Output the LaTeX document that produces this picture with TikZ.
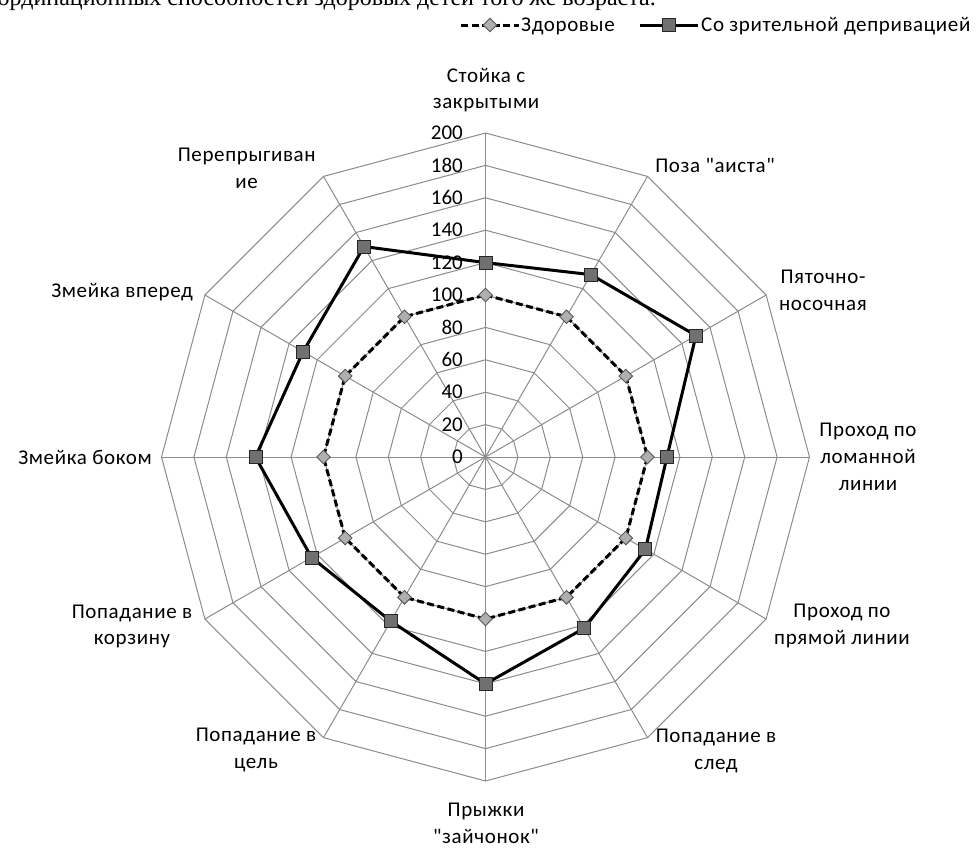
\documentclass[tikz,border=0pt]{standalone}
\usepackage{fontspec}
\setmainfont{Carlito}[Ligatures=TeXOff, LetterSpace=3]
\newfontfamily\numfont{Carlito}
\newfontfamily\serifdoc{Liberation Serif}
\usetikzlibrary{shapes.geometric}
\definecolor{gridgray}{RGB}{140,140,140}
\definecolor{markdark}{RGB}{112,112,112}
\definecolor{marklight}{RGB}{175,175,175}
\begin{document}
\begin{tikzpicture}[x=1pt,y=1pt,
  gridline/.style={draw=gridgray, line width=1pt},
  axisline/.style={draw=gridgray, line width=1.6pt},
  solline/.style={draw=black, line width=3pt, line join=round},
  healthline/.style={draw=black, line width=3pt, dash pattern=on 7pt off 3.5pt, line join=round},
  sqmark/.style={rectangle, draw=black!85, fill=markdark, line width=0.9pt, minimum size=13pt, inner sep=0pt},
  dmmark/.style={diamond, draw=black!65, fill=marklight, line width=0.9pt, minimum width=14pt, minimum height=14pt, inner sep=0pt},
  numlabel/.style={anchor=east, font=\numfont\fontsize{21}{24}\selectfont, inner sep=0pt},
  catlabel/.style={font=\fontsize{21}{26.7}\selectfont, align=center, inner sep=0pt},
  legendtext/.style={anchor=base west, font=\fontsize{21}{24}\selectfont, inner sep=0pt}]
\useasboundingbox (0,0) rectangle (979,-847);
\fill[white] (0,0) rectangle (979,-847);
% cut-off document line at the top
\node[anchor=base east, font=\serifdoc\fontsize{24}{28}\selectfont, inner sep=0pt] (doc) at (656,-5) {ординационных способностей здоровых детей того же возраста.};
% radar chart
\begin{scope}[shift={(485.5,-457)}]
  \coordinate (C) at (0,0);
  \foreach \k in {1,...,10}
    \draw[gridline] (90:{\k*32.4pt}) \foreach \i in {1,...,11}{ -- ({90-30*\i}:{\k*32.4pt}) } -- cycle;
  \foreach \i in {1,...,11}
    \draw[gridline] (C) -- ({90-30*\i}:324pt);
  \draw[axisline] (C) -- (90:324pt);
  % healthy series
  \foreach \i in {0,...,11}
    \coordinate (h\i) at ({90-30*\i}:162pt);
  % sight-deprived series
  \foreach \v [count=\i from 0] in {120,130,150,112,114,122,140,117,124,142,130,150}
    \coordinate (s\i) at ({90-30*\i}:{\v*1.62pt});
  \draw[healthline] (h0) -- (h1) -- (h2) -- (h3) -- (h4) -- (h5) -- (h6) -- (h7) -- (h8) -- (h9) -- (h10) -- (h11) -- cycle;
  \foreach \i in {0,...,11}
    \node[dmmark] (hm\i) at (h\i) {};
  \draw[solline] (s0) -- (s1) -- (s2) -- (s3) -- (s4) -- (s5) -- (s6) -- (s7) -- (s8) -- (s9) -- (s10) -- (s11) -- cycle;
  \foreach \i in {0,...,11}
    \node[sqmark] (sm\i) at (s\i) {};
\end{scope}
% value labels
\foreach \k/\t in {0/0,1/20,2/40,3/60,4/80,5/100,6/120,7/140,8/160,9/180,10/200}
  \node[numlabel] (n\k) at (463,{-457+\k*32.4}) {\t};
% category labels
\node[catlabel] (c0) at (486,-90) {Стойка с\\закрытыми};
\node[catlabel] (c1) at (715,-165) {Поза "аиста"};
\node[catlabel] (c2) at (823,-290) {Пяточно-\\носочная};
\node[catlabel] (c3) at (868,-457) {Проход по\\ломанной\\линии};
\node[catlabel] (c4) at (842,-626) {Проход по\\прямой линии};
\node[catlabel] (c5) at (716,-751) {Попадание в\\след};
\node[catlabel] (c6) at (486,-823.5) {Прыжки\\"зайчонок"};
\node[catlabel] (c7) at (256,-750) {Попадание в\\цель};
\node[catlabel] (c8) at (132,-626.5) {Попадание в\\корзину};
\node[catlabel, anchor=east] (c9) at (152,-457) {Змейка боком};
\node[catlabel, anchor=east] (c10) at (193,-292) {Змейка вперед};
\node[catlabel] (c11) at (246.7,-168.3) {Перепрыгиван\\ие};
% legend
\coordinate (lh1) at (461,-25);
\coordinate (lh2) at (519,-25);
\draw[healthline] (lh1) -- (lh2);
\node[dmmark] (lhm) at (490,-25) {};
\node[legendtext] (lht) at (521,-31) {Здоровые};
\coordinate (ls1) at (640,-25);
\coordinate (ls2) at (698,-25);
\draw[solline] (ls1) -- (ls2);
\node[sqmark] (lsm) at (669,-25) {};
\node[legendtext] (lst) at (701,-31) {Со зрительной депривацией};
\end{tikzpicture}
\end{document}
